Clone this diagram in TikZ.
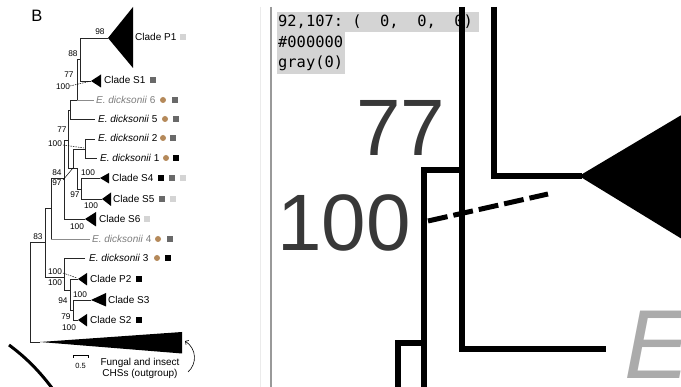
\documentclass[tikz,border=0pt]{standalone}
\usepackage{fontspec}
\setmainfont{Liberation Sans}
\newfontfamily\monof{DejaVu Sans Mono}
\usetikzlibrary{arrows.meta}
\definecolor{tanbr}{RGB}{181,137,90}
\definecolor{sqlight}{RGB}{212,212,212}
\definecolor{sqgray}{RGB}{105,105,105}
\definecolor{infobg}{RGB}{212,212,212}
\definecolor{grtext}{RGB}{125,125,125}
\tikzset{
  lab/.style={font=\fontsize{10}{12}\selectfont, anchor=west, inner sep=0pt, text height=7.2pt, text depth=0pt},
  sup/.style={font=\fontsize{8.3}{10}\selectfont, inner sep=0pt, text height=6pt, text depth=0pt},
  br/.style={line width=0.8pt, black!85},
  gbr/.style={line width=0.8pt, black!45},
  sqm/.style={minimum size=6.5pt, inner sep=0pt, draw=none},
  dotm/.style={circle, fill=tanbr, minimum size=6pt, inner sep=0pt},
  thin dash/.style={line width=0.5pt, dash pattern=on 1.5pt off 1pt},
  bigline/.style={line width=6pt, line cap=butt, line join=miter},
  info/.style={font=\monof\fontsize{15.4}{18}\selectfont, anchor=west, inner sep=0pt, text height=11pt, text depth=2pt},
  bigdig/.style={font=\fontsize{80}{80}\selectfont, inner sep=0pt, anchor=north west, text height=58pt, text depth=0pt, text=black!78},
}
\begin{document}
\begin{tikzpicture}[x=1pt,y=-1pt]
\useasboundingbox (0,0) rectangle (681,387);
\fill[white] (0,0) rectangle (681,387);

% ---------------- left panel ----------------
\node[font=\fontsize{16.5}{18}\selectfont, inner sep=0pt] (panelB) at (37,16) {B};

% clade triangles
\fill (108,38) -- (133,7) -- (133,68) -- cycle;
\fill (91,81) -- (101,74.5) -- (101,87.5) -- cycle;
\fill (100,178) -- (109,173) -- (109,183.5) -- cycle;
\fill (102,199) -- (111,192.5) -- (111,206) -- cycle;
\fill (85,219) -- (96,212) -- (96,226.5) -- cycle;
\fill (78,279) -- (87,273) -- (87,285.5) -- cycle;
\fill (91,300) -- (106,293) -- (106,306.5) -- cycle;
\fill (78,320) -- (87,314) -- (87,326.5) -- cycle;
\fill (40,342) -- (182,332) -- (182,353.5) -- cycle;

% branches
\draw[br] (108,38) -- (80,38) -- (80,81) -- (91,81);
\draw[br] (80,59) -- (77,59) -- (77,100);
\draw[gbr] (77,100) -- (94,100);
\draw[br] (77,100) -- (70,100) -- (70,119) -- (95,119);
\draw[br] (70,110) -- (68,110) -- (68,168) -- (73,168) -- (73,149) -- (85,149);
\draw[br] (85,139) -- (95,139);
\draw[br] (85,139) -- (85,158) -- (97,158);
\draw[br] (73,168) -- (77,168) -- (77,189) -- (81,189);
\draw[br] (100,178) -- (81,178) -- (81,199) -- (102,199);
\draw[br] (68,140) -- (64,140) -- (64,219) -- (85,219);
\draw[br] (64,178) -- (51,178) -- (51,239);
\draw[gbr] (51,239) -- (90,239);
\draw[br] (51,208) -- (45,208) -- (45,277);
\draw[br] (30,242) -- (45,242);
\draw[br] (45,277) -- (64,277);
\draw[br] (85,258) -- (64,258) -- (64,290) -- (70,290);
\draw[br] (78,279) -- (70,279) -- (70,310) -- (73,310);
\draw[br] (91,300) -- (73,300) -- (73,320) -- (78,320);
\draw[br] (30,242) -- (30,342) -- (40,342);

% dashed pointer lines
\draw[thin dash] (70,86) -- (89,81.5);
\draw[thin dash] (63,145) -- (84,148);
\draw[line width=0.5pt] (63,180) -- (73,168);
\draw[thin dash] (63,273) -- (77,278);

% support values
\node[sup] (s98)  at (100,32) {98};
\node[sup] (s88)  at (73,54)  {88};
\node[sup] (s77a) at (69,75)  {77};
\node[sup] (s100a) at (63,87) {100};
\node[sup] (s77b) at (62,130) {77};
\node[sup] (s100b) at (55,144) {100};
\node[sup] (s84)  at (57,173) {84};
\node[sup] (s97a) at (57,183) {97};
\node[sup] (s100c) at (88,172.5) {100};
\node[sup] (s97b) at (75,195) {97};
\node[sup] (s100d) at (91,206) {100};
\node[sup] (s100e) at (77,227) {100};
\node[sup] (s83)  at (38,237) {83};
\node[sup] (s100f) at (55,272) {100};
\node[sup] (s100g) at (55,283) {100};
\node[sup] (s94)  at (63,301) {94};
\node[sup] (s100h) at (80,295) {100};
\node[sup] (s79)  at (66,317) {79};
\node[sup] (s100i) at (69,328) {100};

% tip labels
\node[lab] (tP1) at (135,37) {Clade P1};
\node[sqm, fill=sqlight] (mP1) at (183,37) {};
\node[lab] (tS1) at (104,80) {Clade S1};
\node[sqm, fill=sqgray] (mS1) at (153,80) {};
\node[lab, text=grtext] (t6) at (96,100) {\textit{E. dicksonii} 6};
\node[dotm] (d6) at (163,100) {};
\node[sqm, fill=sqgray] (m6) at (175,100) {};
\node[lab] (t5) at (98,119) {\textit{E. dicksonii} 5};
\node[dotm] (d5) at (165,119) {};
\node[sqm, fill=sqgray] (m5) at (176,119) {};
\node[lab] (t2) at (98,138) {\textit{E. dicksonii} 2};
\node[dotm] (d2) at (163,138) {};
\node[sqm, fill=sqgray] (m2) at (173,138) {};
\node[lab] (t1) at (100,158) {\textit{E. dicksonii} 1};
\node[dotm] (d1) at (166,158) {};
\node[sqm, fill=black] (m1) at (176,158) {};
\node[lab] (tS4) at (112,178) {Clade S4};
\node[sqm, fill=black] (mS4a) at (161,178) {};
\node[sqm, fill=sqgray] (mS4b) at (172,178) {};
\node[sqm, fill=sqlight] (mS4c) at (183,178) {};
\node[lab] (tS5) at (113,199) {Clade S5};
\node[sqm, fill=sqgray] (mS5a) at (162,199) {};
\node[sqm, fill=sqlight] (mS5b) at (173,199) {};
\node[lab] (tS6) at (99,219) {Clade S6};
\node[sqm, fill=sqlight] (mS6) at (147,219) {};
\node[lab, text=grtext] (t4) at (92,239) {\textit{E. dicksonii} 4};
\node[dotm] (d4) at (158,239) {};
\node[sqm, fill=sqgray] (m4) at (170,239) {};
\node[lab] (t3) at (89,258) {\textit{E. dicksonii} 3};
\node[dotm] (d3) at (157,258) {};
\node[sqm, fill=black] (m3) at (168,258) {};
\node[lab] (tP2) at (90,279) {Clade P2};
\node[sqm, fill=black] (mP2) at (139,279) {};
\node[lab] (tS3) at (108,300) {Clade S3};
\node[lab] (tS2) at (90,320) {Clade S2};
\node[sqm, fill=black] (mS2) at (139,320) {};

% scale bar
\coordinate (sbl) at (73,355);
\coordinate (sbr) at (88,355);
\draw[line width=0.6pt] ([yshift=-3pt]sbl) -- (sbl) -- (sbr) -- ([yshift=-3pt]sbr);
\node[font=\fontsize{7.5}{9}\selectfont, inner sep=0pt] (sb) at (80.5,366) {0.5};

% outgroup label
\node[font=\fontsize{10}{12}\selectfont, align=center, inner sep=0pt] (outg) at (140,368.5) {Fungal and insect\\[-1.5pt]CHSs (outgroup)};
\coordinate (bk1) at (185,341);
\coordinate (bk2) at (188,372);
\draw[line width=0.6pt, {Straight Barb[length=2.5pt]}-] (bk1) .. controls (197,349) and (197,364) .. (bk2);

% thick curved stroke at bottom left
\draw[line width=3pt] (9,345) .. controls (24,356) and (39,370) .. (55,392);

% ---------------- right panel ----------------
\draw[line width=1pt, black!8] (260,7) -- (260,387);
\draw[line width=2pt, black!40] (271,7) -- (271,387);

\begin{scope}
\clip (272.5,7) rectangle (681,387);
% info box
\fill[infobg] (277,12) rectangle (479,32);
\fill[infobg] (277,32) rectangle (345,74);
\node[info] (i1) at (278,22) {92,107:\ (\ \ 0,\ \ 0,\ \ 0)};
\node[info] (i2) at (278,43) {\#000000};
\node[info] (i3) at (278,63) {gray(0)};

% magnified digits
\node[bigdig] (big77) at (356,97) {77};
\node[bigdig] (big100) at (277,192) {100};

% magnified branches
\draw[bigline] (494,7) -- (494,176) -- (582,176);
\draw[bigline] (462,7) -- (462,349) -- (606,349);
\draw[bigline] (462,170) -- (424,170) -- (424,392);
\draw[bigline] (424,343) -- (398,343) -- (398,392);
\fill (579,176) -- (700,104) -- (700,250) -- cycle;
\draw[line width=5pt, dash pattern=on 20pt off 6pt] (428,221) -- (548,194);

% magnified E
\node[font=\fontsize{98}{98}\selectfont\itshape, text=black!33, inner sep=0pt, anchor=north west, text height=70pt, text depth=0pt] (bigE) at (624,308) {E};
\end{scope}
\end{tikzpicture}
\end{document}
